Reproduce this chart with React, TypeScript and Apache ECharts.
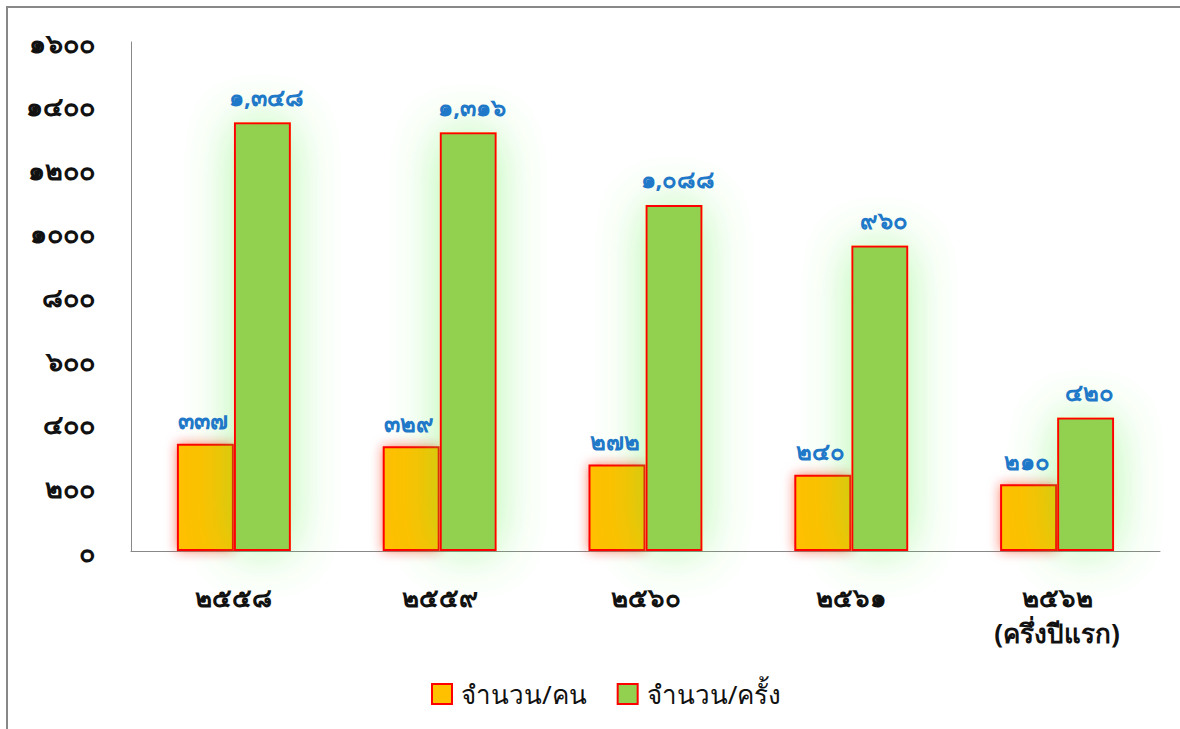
import React, { useEffect, useRef } from "react";
import * as echarts from "echarts";

const categories = ["๒๕๕๘", "๒๕๕๙", "๒๕๖๐", "๒๕๖๑", "๒๕๖๒\n(ครึ่งปีแรก)"];
const seriesNames = ["จำนวน/คน", "จำนวน/ครั้ง"];
const personValues = [337, 329, 272, 240, 210];
const timesValues = [1348, 1316, 1088, 960, 420];
const personLabels = ["๓๓๗", "๓๒๙", "๒๗๒", "๒๔๐", "๒๑๐"];
const timesLabels = ["๑,๓๔๘", "๑,๓๑๖", "๑,๐๘๘", "๙๖๐", "๔๒๐"];
const thaiDigits = ["๐", "๑", "๒", "๓", "๔", "๕", "๖", "๗", "๘", "๙"];

const toThai = (v: number) => String(v).replace(/[0-9]/g, (d) => thaiDigits[Number(d)]);

const FONT = "'Noto Sans', 'DejaVu Sans', sans-serif";

export default function App() {
  const ref = useRef<HTMLDivElement>(null);
  useEffect(() => {
    if (!ref.current) return;
    const chart = echarts.init(ref.current, undefined, { renderer: "svg" });
    chart.setOption({
      animation: false,
      backgroundColor: "#ffffff",
      textStyle: { fontFamily: FONT },
      graphic: [
        {
          type: "polyline",
          shape: { points: [[7, 740], [7, 7], [1190, 7]] },
          style: { stroke: "#888888", lineWidth: 2, fill: "none" },
          silent: true,
        },
      ],
      grid: { left: 131, right: 20, top: 42, bottom: 178, containLabel: false },
      legend: {
        bottom: 17,
        left: 426,
        icon: "rect",
        itemWidth: 20,
        itemHeight: 20,
        itemGap: 30,
        textStyle: { fontSize: 26, color: "#111", fontFamily: FONT, padding: [0, 0, 0, 4] },
        data: seriesNames,
      },
      xAxis: {
        type: "category",
        data: categories,
        axisLine: { lineStyle: { color: "#888888", width: 1 } },
        axisTick: { show: false },
        axisLabel: {
          margin: 28,
          fontSize: 26,
          fontWeight: "bold",
          color: "#111",
          lineHeight: 36,
          fontFamily: FONT,
        },
      },
      yAxis: {
        type: "value",
        min: 0,
        max: 1600,
        interval: 200,
        splitLine: { show: false },
        axisLine: { show: true, lineStyle: { color: "#888888", width: 1 } },
        axisTick: { show: false },
        axisLabel: {
          margin: 36,
          fontSize: 27,
          fontWeight: "bold",
          color: "#111",
          fontFamily: FONT,
          formatter: (v: number) => toThai(v),
        },
      },
      series: [
        {
          name: seriesNames[0],
          type: "bar",
          data: personValues,
          barWidth: 57,
          barGap: "0%",
          itemStyle: {
            color: "#FFC000",
            borderColor: "#FF0000",
            borderWidth: 2,
            shadowColor: "rgba(255,40,0,0.6)",
            shadowBlur: 12,
          },
          label: {
            show: true,
            position: "top",
            distance: 12,
            offset: [-2, 0],
            color: "#1F78C8",
            fontSize: 24,
            fontWeight: "bold",
            fontFamily: FONT,
            formatter: (p: any) => personLabels[p.dataIndex],
          },
        },
        {
          name: seriesNames[1],
          type: "bar",
          data: timesValues,
          barWidth: 57,
          itemStyle: {
            color: "#92D050",
            borderColor: "#FF0000",
            borderWidth: 2,
            shadowColor: "rgba(80,240,60,0.45)",
            shadowBlur: 50,
          },
          label: {
            show: true,
            position: "top",
            distance: 14,
            offset: [4, 0],
            color: "#1F78C8",
            fontSize: 24,
            fontWeight: "bold",
            fontFamily: FONT,
            formatter: (p: any) => timesLabels[p.dataIndex],
          },
        },
      ],
    });
    return () => chart.dispose();
  }, []);
  return (
    <div
      ref={ref}
      style={{ position: "absolute", left: 0, top: 0, width: 1180, height: 729 }}
    />
  );
}
